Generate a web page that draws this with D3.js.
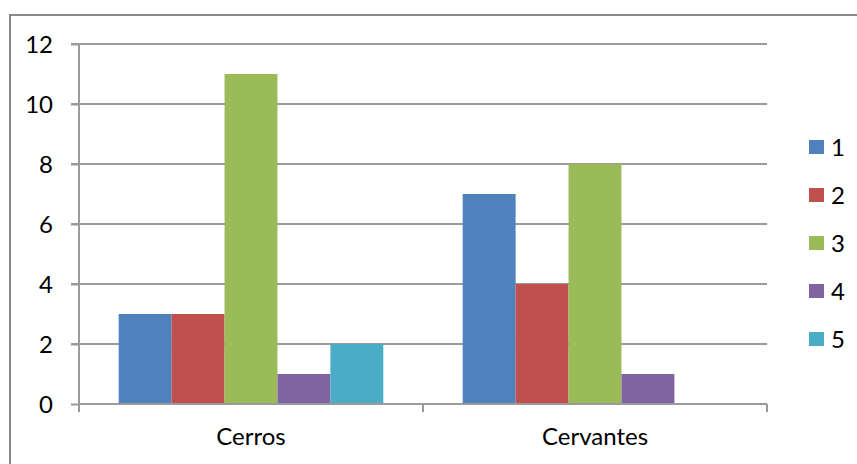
<!DOCTYPE html>
<html>
<head>
<meta charset="utf-8">
<script src="https://cdn.jsdelivr.net/npm/d3@7"></script>
<style>
  body { margin: 0; background: #fff; }
  svg text { font-family: Lato, "Liberation Sans", sans-serif; fill: #000; }
</style>
</head>
<body>
<div id="chart"></div>
<script>
// categorieen, reeksen en waarden zoals
const categories = ["Cerros", "Cervantes"];
const seriesNames = ["1", "2", "3", "4", "5"];
const seriesColors = ["#4F81BD", "#C0504D", "#9BBB59", "#8064A2", "#4BACC6"];
const values1 = [3, 7];
const values2 = [3, 4];
const values3 = [11, 8];
const values4 = [1, 1];
const values5 = [2, 0];
const yTicks = [0, 2, 4, 6, 8, 10, 12];

const width = 857;
const height = 464;
const plot = {left: 79, right: 767, top: 44, bottom: 404};
const fontSize = 24;

const allValues = [values1, values2, values3, values4, values5];

const svg = d3.select("#chart")
    .append("svg")
    .attr("width", width)
    .attr("height", height);

// rand om de hele grafiek
svg.append("rect")
    .attr("x", 10)
    .attr("y", 15)
    .attr("width", 900)
    .attr("height", 500)
    .attr("fill", "none")
    .attr("stroke", "#8a8a8a")
    .attr("stroke-width", 2);

// schalen
const yScale = d3.scaleLinear()
    .domain([0, 12])
    .range([plot.bottom, plot.top]);

const x0 = d3.scaleBand()
    .domain(categories)
    .range([plot.left, plot.right])
    .paddingInner(0)
    .paddingOuter(0);

const x1 = d3.scaleBand()
    .domain(seriesNames)
    .range([0, x0.bandwidth()])
    .paddingOuter(0.75)
    .paddingInner(0);

// rasterlijnen
svg.append("g")
    .selectAll("line")
    .data(yTicks.filter(d => d > 0))
    .join("line")
    .attr("x1", plot.left - 8)
    .attr("x2", plot.right)
    .attr("y1", d => yScale(d))
    .attr("y2", d => yScale(d))
    .attr("stroke", "#9a9a9a")
    .attr("stroke-width", 2);

// balken
const groups = svg.append("g")
    .selectAll("g")
    .data(categories)
    .join("g")
    .attr("transform", d => "translate(" + x0(d) + ",0)");

groups.selectAll("rect")
    .data((c, i) => seriesNames.map((s, j) => ({s: s, v: allValues[j][i], color: seriesColors[j]})))
    .join("rect")
    .attr("x", d => x1(d.s))
    .attr("width", x1.bandwidth())
    .attr("y", d => yScale(d.v))
    .attr("height", d => yScale(0) - yScale(d.v))
    .attr("fill", d => d.color);

// y-as
const yAxis = svg.append("g")
    .attr("transform", "translate(" + plot.left + ",0)")
    .call(d3.axisLeft(yScale).tickValues(yTicks).tickSize(8).tickPadding(18));
yAxis.select(".domain").attr("stroke", "#9a9a9a").attr("stroke-width", 2)
    .attr("d", "M0," + plot.top + "V" + (plot.bottom + 8));
yAxis.selectAll(".tick line").attr("stroke", "#9a9a9a").attr("stroke-width", 2);
yAxis.selectAll(".tick text").attr("font-size", fontSize).attr("dy", "0.36em");

// x-as
const xAxis = svg.append("g")
    .attr("transform", "translate(0," + plot.bottom + ")")
    .call(d3.axisBottom(x0).tickSize(0).tickPadding(24));
xAxis.select(".domain").attr("stroke", "#9a9a9a").attr("stroke-width", 2)
    .attr("d", "M" + plot.left + ",0H" + plot.right);
xAxis.selectAll(".tick text").attr("font-size", fontSize);

// scheidingsstreepjes tussen de categorieen
svg.append("g")
    .selectAll("line")
    .data(categories.slice(1).map(c => x0(c)).concat([plot.right]))
    .join("line")
    .attr("x1", d => d)
    .attr("x2", d => d)
    .attr("y1", plot.bottom)
    .attr("y2", plot.bottom + 8)
    .attr("stroke", "#9a9a9a")
    .attr("stroke-width", 2);

// legenda
const legend = svg.append("g")
    .selectAll("g")
    .data(seriesNames)
    .join("g")
    .attr("transform", (d, i) => "translate(809," + (147 + i * 48) + ")");

legend.append("rect")
    .attr("x", 0)
    .attr("y", -7)
    .attr("width", 15)
    .attr("height", 14)
    .attr("fill", (d, i) => seriesColors[i]);

legend.append("text")
    .attr("x", 22)
    .attr("dy", "0.36em")
    .attr("font-size", fontSize)
    .text(d => d);
</script>
</body>
</html>
